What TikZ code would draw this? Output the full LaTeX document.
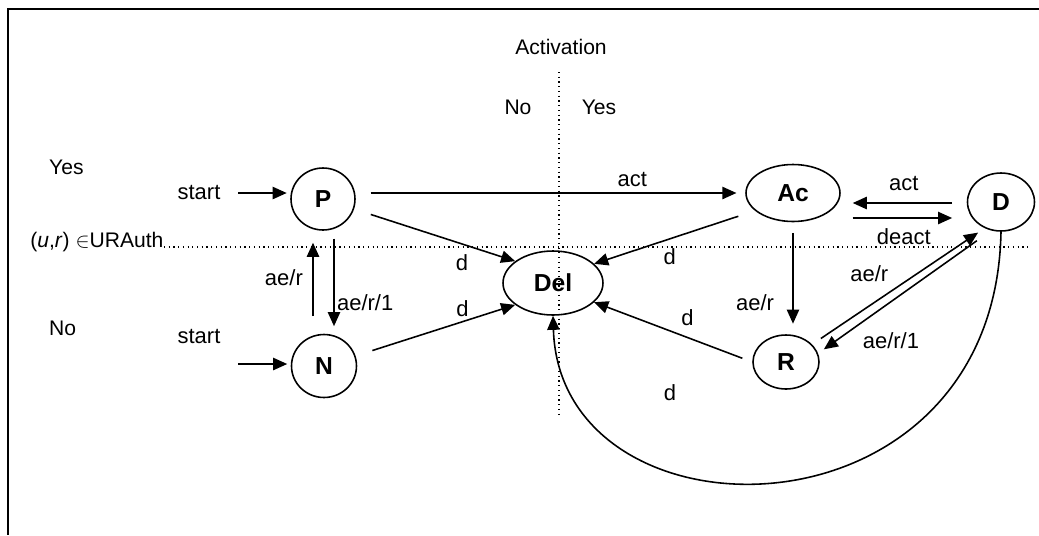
\documentclass[tikz,border=0pt]{standalone}
\usepackage{fontspec}
\setmainfont{Liberation Sans}
\usepackage{amsmath}
\usetikzlibrary{calc}
\usetikzlibrary{arrows.meta}
\usetikzlibrary{shapes.geometric}
\tikzset{>={Triangle[length=8pt,width=7pt]}}
\tikzstyle{state} = [ellipse, draw=black, line width=0.9pt, inner sep=0, font=\fontsize{14}{16}\selectfont\bfseries]
\tikzstyle{trans} = [->, line width=0.9pt]
\tikzstyle{lbl} = [draw=none, font=\fontsize{12.5}{15}\selectfont]
\tikzstyle{axis} = [draw=none, font=\fontsize{12}{14}\selectfont]
\tikzstyle{guide} = [dotted, line width=0.7pt]

\begin{document}
\begin{tikzpicture}[x=0.02cm, y=-0.02cm]
\useasboundingbox (0,0) rectangle (1039,535);
\draw [line width=1pt] (1039,9) -- (8,9) -- (8,535);

% axes
\node [axis] (activ) at (561,47) {Activation};
\node [axis] (activno) at (518,107) {No};
\node [axis] (activyes) at (599,107) {Yes};
\node [axis, anchor=west] (authyes) at (43,167) {Yes};
\node [axis, anchor=west] (authno) at (43,328) {No};
\node [axis, anchor=base west, inner sep=0] (auth) at (30,247) {(\textit{u},\textit{r}) $\in$URAuth};
\coordinate (vtop) at (559,72);
\coordinate (vbot) at (559,418);
\coordinate (hend) at (1030,247);
\draw [guide] (vtop) -- (vbot);
\draw [guide] (auth.base east) -- (auth.base east -| hend);

% states
\node [state, minimum width=1.28cm, minimum height=1.24cm] (P) at (323,199) {P};
\node [state, minimum width=1.3cm, minimum height=1.26cm] (N) at (324,366) {N};
\node [state, minimum width=1.88cm, minimum height=1.14cm] (Ac) at (793,193) {Ac};
\node [state, minimum width=1.34cm, minimum height=1.16cm] (D) at (1001,202) {D};
\node [state, minimum width=1.32cm, minimum height=1.08cm] (R) at (786,362) {R};
\node [state, minimum width=2cm, minimum height=1.28cm] (Del) at (553,283) {Del};

\node [lbl] (start1) at (199,193) {start};
\node [lbl] (start2) at (199,337) {start};
\coordinate (in1) at (238,193);
\coordinate (in2) at (238,364);
\draw [trans, shorten >=2pt] (in1) -- (in1 -| P.west);
\draw [trans, shorten >=2pt] (in2) -- (in2 -| N.west);

\coordinate (nP) at ($(N.north)+(-11,0)$);
\coordinate (pN) at ($(P.south)+(11,0)$);
\draw [trans, shorten <=10pt, shorten >=6.8pt] (nP) -- (nP |- P.south) node [lbl, pos=0.54, left=2pt] (lnp) {ae/r};
\draw [trans, shorten <=4.5pt, shorten >=4.3pt] (pN) -- (pN |- N.north) node [lbl, pos=0.70, right=-2pt] (lpn) {ae/r/1};

\draw [trans, shorten <=8.5pt, shorten >=5pt] (P.east |- Ac.west) -- (Ac.west) node [lbl, pos=0.71, above] (lpac) {act};

\coordinate (acA) at ($(Ac.east)+(0,10)$);
\coordinate (acB) at ($(Ac.east)+(0,25)$);
\draw [trans, shorten <=8.3pt, shorten >=6.8pt] (acA -| D.west) -- (acA) node [lbl, pos=0.5, above=3pt] (ldac) {act};
\draw [trans, shorten <=6.8pt, shorten >=8.3pt] (acB) -- (acB -| D.west) node [lbl, pos=0.5, below=2pt] (lacd) {deact};

\draw [trans, shorten <=6pt, shorten >=6pt] (Ac.south) -- (Ac.south |- R.north) node [lbl, pos=0.72, left=7pt] (lacr) {ae/r};

\draw [trans, shorten <=6pt, shorten >=4.5pt] (R.34) -- (D.238) node [lbl, pos=0.48, above left] (lrd) {ae/r};
\draw [trans, shorten <=10pt, shorten >=4pt] (D.251) -- (R.15) node [lbl, pos=0.78, below right] (ldr) {ae/r/1};

% deletion
\draw [trans, shorten <=10pt] (P) -- (Del.150) node [lbl, pos=0.67, below=2pt] (lpdel) {d};
\draw [trans, shorten <=10pt] (N) -- (Del.210) node [lbl, pos=0.67, above=-1pt] (lndel) {d};
\draw [trans, shorten <=10pt] (Ac.205) -- (Del.25) node [lbl, pos=0.53, below=2pt] (lacdel) {d};
\draw [trans, shorten <=6pt] (R.west) -- (Del.335) node [lbl, pos=0.41, above=3pt] (lrdel) {d};
\draw [trans] (D.south) .. controls (995,550) and (560,550) .. (Del.south);
\node [lbl] (lddel) at (670,393) {d};
\end{tikzpicture}
\end{document}
